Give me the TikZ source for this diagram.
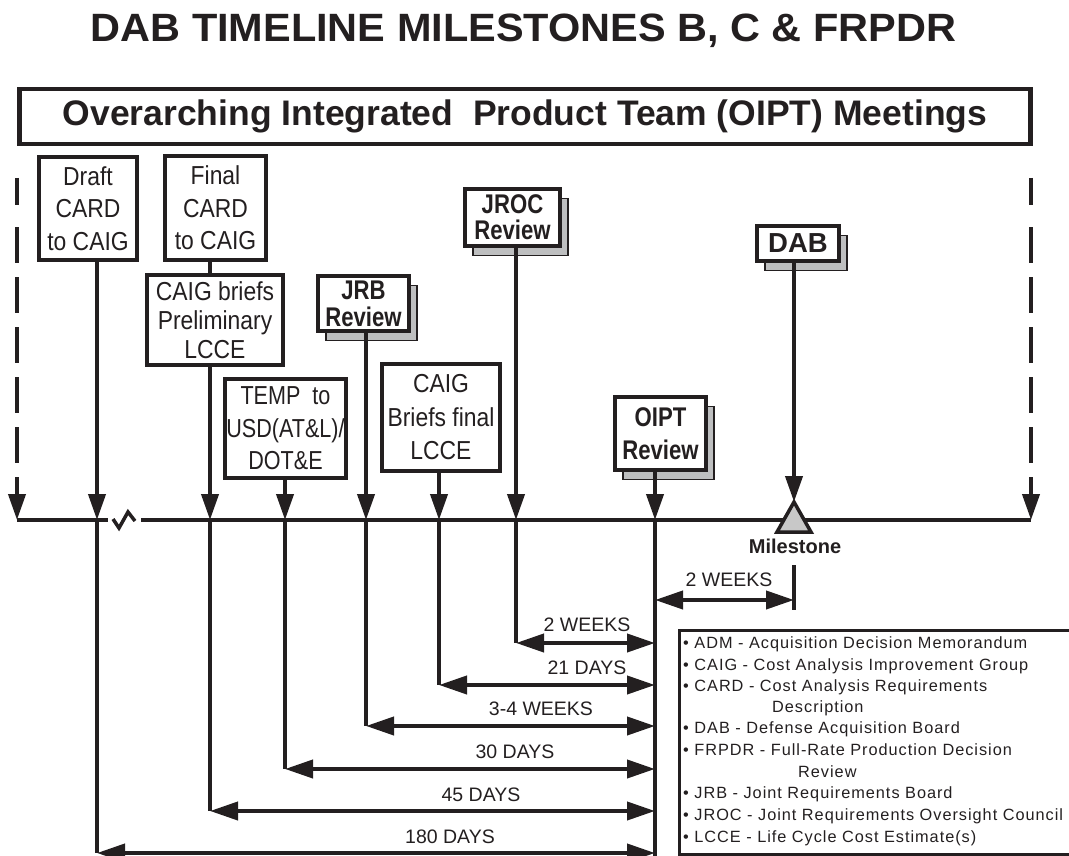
\documentclass[tikz,border=0pt]{standalone}
\usepackage{fontspec}
\setmainfont{Liberation Sans}
\newfontfamily\titlefont[FakeStretch=1.05]{Liberation Sans Bold}
\newfontfamily\boxfont[FakeStretch=0.88]{Liberation Sans}
\newfontfamily\tightboxfont[FakeStretch=0.83]{Liberation Sans}
\newfontfamily\bnfont[FakeStretch=0.82]{Liberation Sans Bold}
\newfontfamily\legfont[LetterSpace=6]{Liberation Sans}
\usetikzlibrary{arrows.meta,shadows,calc}
\definecolor{ink}{RGB}{35,31,32}
\definecolor{shgray}{RGB}{190,191,192}
\definecolor{msgray}{RGB}{200,200,200}
\begin{document}
\begin{tikzpicture}[x=1pt,y=-1pt,
  line/.style={draw=ink, line width=4pt},
  arr/.style={line, -{Triangle[length=26pt,width=17pt]}},
  darr/.style={line, {Triangle[length=28pt,width=18pt]}-{Triangle[length=28pt,width=18pt]}},
  dashln/.style={draw=ink, line width=4pt, dash pattern=on 36pt off 14pt},
  regbox/.style={draw=ink, line width=4pt, fill=white, inner sep=0pt, align=center, text=ink},
  boldbox/.style={draw=ink, line width=4.5pt, fill=white, inner sep=0pt, align=center, text=ink,
    general shadow={fill=shgray, draw=ink, line width=1.3pt, shadow xshift=8pt, shadow yshift=-9.5pt}},
  lab/.style={text=ink, font=\fontsize{19.5}{20}\selectfont, inner sep=0pt},
  leg/.style={anchor=base west, text=ink, font=\legfont\fontsize{16.3}{18}\selectfont, inner sep=0pt},
]
\useasboundingbox (0,0) rectangle (1069,856);

% title
\node[anchor=base, text=ink, inner sep=0pt, font=\titlefont\fontsize{39.5}{40}\selectfont] (title) at (523.5,42) {DAB TIMELINE MILESTONES B, C \& FRPDR};

% OIPT banner
\node[draw=ink, line width=4.5pt, minimum width=1011, minimum height=55, inner sep=0pt, text=ink,
  font=\bfseries\fontsize{35.5}{36}\selectfont] (oipt) at (525,116.5) {Overarching Integrated\ \ Product Team (OIPT) Meetings};

% timeline coordinates
\coordinate (tl) at (17,520);
\coordinate (tr) at (1031,520);
\coordinate (tA) at (97,520);
\coordinate (tB) at (210,520);
\coordinate (tC) at (285,520);
\coordinate (tD) at (366,520);
\coordinate (tE) at (439,520);
\coordinate (tF) at (516,520);
\coordinate (tG) at (655,520);
\coordinate (msapex) at (794,502);

% boxes
\node[regbox, minimum width=98, minimum height=103, font=\boxfont\fontsize{26}{32.5}\selectfont] (draft) at (88,208.5) {Draft\\CARD\\to CAIG};
\node[regbox, minimum width=101, minimum height=104, font=\boxfont\fontsize{26}{32.5}\selectfont] (final) at (215.5,208) {Final\\CARD\\to CAIG};
\node[regbox, minimum width=136, minimum height=90, font=\boxfont\fontsize{26}{29}\selectfont] (cbp) at (215,320) {CAIG briefs\\Preliminary\\LCCE};
\node[regbox, minimum width=121, minimum height=99, font=\tightboxfont\fontsize{26}{32.5}\selectfont] (temp) at (285.5,428.5) {TEMP\ \ to\\USD(AT\&L)/\\DOT\&E};
\node[regbox, minimum width=118, minimum height=107, font=\boxfont\fontsize{26}{33.5}\selectfont] (cfin) at (441,417.5) {CAIG\\Briefs final\\LCCE};

\node[boldbox, minimum width=91, minimum height=55, font=\bnfont\fontsize{27}{27}\selectfont] (jrb) at (363.5,303.5) {JRB\\Review};
\node[boldbox, minimum width=95, minimum height=57, font=\bnfont\fontsize{27}{26}\selectfont] (jroc) at (512.5,217.5) {JROC\\Review};
\node[boldbox, minimum width=82, minimum height=35, font=\bfseries\fontsize{27.5}{28}\selectfont] (dab) at (798,243.5) {DAB};
\node[boldbox, minimum width=91, minimum height=73, font=\bnfont\fontsize{27}{33}\selectfont] (oiptr) at (660.5,433.5) {OIPT\\Review};

% dashed side lines
\draw[line] (17,178) -- (17,205);
\draw[dashln, -{Triangle[length=26pt,width=17pt]}] (17,227) -- (tl);
\draw[line] (1031,178) -- (1031,205);
\draw[dashln, -{Triangle[length=26pt,width=17pt]}] (1031,227) -- (tr);

% timeline with break
\draw[line] (tl) -- (108,520);
\draw[draw=ink, line width=3.5pt, line join=miter] (113,519) -- (119,528) -- (128,512) -- (135,521);
\draw[line] (141,520) -- (tr);

% milestone triangle
\draw[draw=ink, line width=3.5pt, fill=msgray, line join=miter] (msapex) -- (811,532) -- (777,532) -- cycle;
\node[text=ink, inner sep=0pt, font=\bfseries\fontsize{20}{20}\selectfont] (mslab) at (795,546) {Milestone};

% connectors from boxes to timeline
\draw[line] (final.south -| tB) -- (cbp.north -| tB);
\draw[arr] (draft.south -| tA) -- (tA);
\draw[arr] (cbp.south -| tB) -- (tB);
\draw[arr] (temp.south -| tC) -- (tC);
\draw[arr] (jrb.south -| tD) -- (tD);
\draw[arr] (cfin.south -| tE) -- (tE);
\draw[arr] (jroc.south -| tF) -- (tF);
\draw[arr] (oiptr.south -| tG) -- (tG);
\draw[arr] (dab.south -| msapex) -- (msapex);

% duration lines
\coordinate (bA) at (97,853);   \coordinate (oA) at (655,853);
\coordinate (bB) at (210,811);  \coordinate (oB) at (655,811);
\coordinate (bC) at (285,769);  \coordinate (oC) at (655,769);
\coordinate (bD) at (366,726);  \coordinate (oD) at (655,726);
\coordinate (bE) at (439,685);  \coordinate (oE) at (655,685);
\coordinate (bF) at (516,643);  \coordinate (oF) at (655,643);
\coordinate (gEnd) at (655,858);
\draw[line] (tA) -- (bA);
\draw[line] (tB) -- (bB);
\draw[line] (tC) -- (bC);
\draw[line] (tD) -- (bD);
\draw[line] (tE) -- (bE);
\draw[line] (tF) -- (bF);
\draw[line] (tG) -- (gEnd);

\draw[darr] (bA) -- (oA);
\draw[darr] (bB) -- (oB);
\draw[darr] (bC) -- (oC);
\draw[darr] (bD) -- (oD);
\draw[darr] (bE) -- (oE);
\draw[darr] (bF) -- (oF);

\node[lab] (w2b) at (587,625) {2 WEEKS};
\node[lab] (d21) at (587,668) {21 DAYS};
\node[lab] (w34) at (541,709) {3-4 WEEKS};
\node[lab] (d30) at (515,752) {30 DAYS};
\node[lab] (d45) at (481,795) {45 DAYS};
\node[lab] (d180) at (450,837) {180 DAYS};

% milestone 2 weeks
\coordinate (mtop) at (794,565);
\coordinate (mbot) at (794,610);
\coordinate (mL) at (655,600);
\coordinate (mR) at (794,600);
\draw[line] (mtop) -- (mbot);
\draw[darr] (mL) -- (mR);
\node[lab] (w2a) at (729,580) {2 WEEKS};

% legend
\draw[draw=ink, line width=3pt] (1072,630) -- (679,630) -- (679,854) -- (1072,854);
\node[leg] (l1) at (683,648) {\textbullet\ ADM - Acquisition Decision Memorandum};
\node[leg] (l2) at (683,670) {\textbullet\ CAIG - Cost Analysis Improvement Group};
\node[leg] (l3) at (683,691) {\textbullet\ CARD - Cost Analysis Requirements};
\node[leg] (l4) at (772,712) {Description};
\node[leg] (l5) at (683,733) {\textbullet\ DAB - Defense Acquisition Board};
\node[leg] (l6) at (683,755) {\textbullet\ FRPDR - Full-Rate Production Decision};
\node[leg] (l7) at (798,777) {Review};
\node[leg] (l8) at (683,798) {\textbullet\ JRB - Joint Requirements Board};
\node[leg] (l9) at (683,820) {\textbullet\ JROC - Joint Requirements Oversight Council};
\node[leg] (l10) at (683,842) {\textbullet\ LCCE - Life Cycle Cost Estimate(s)};
\end{tikzpicture}
\end{document}
